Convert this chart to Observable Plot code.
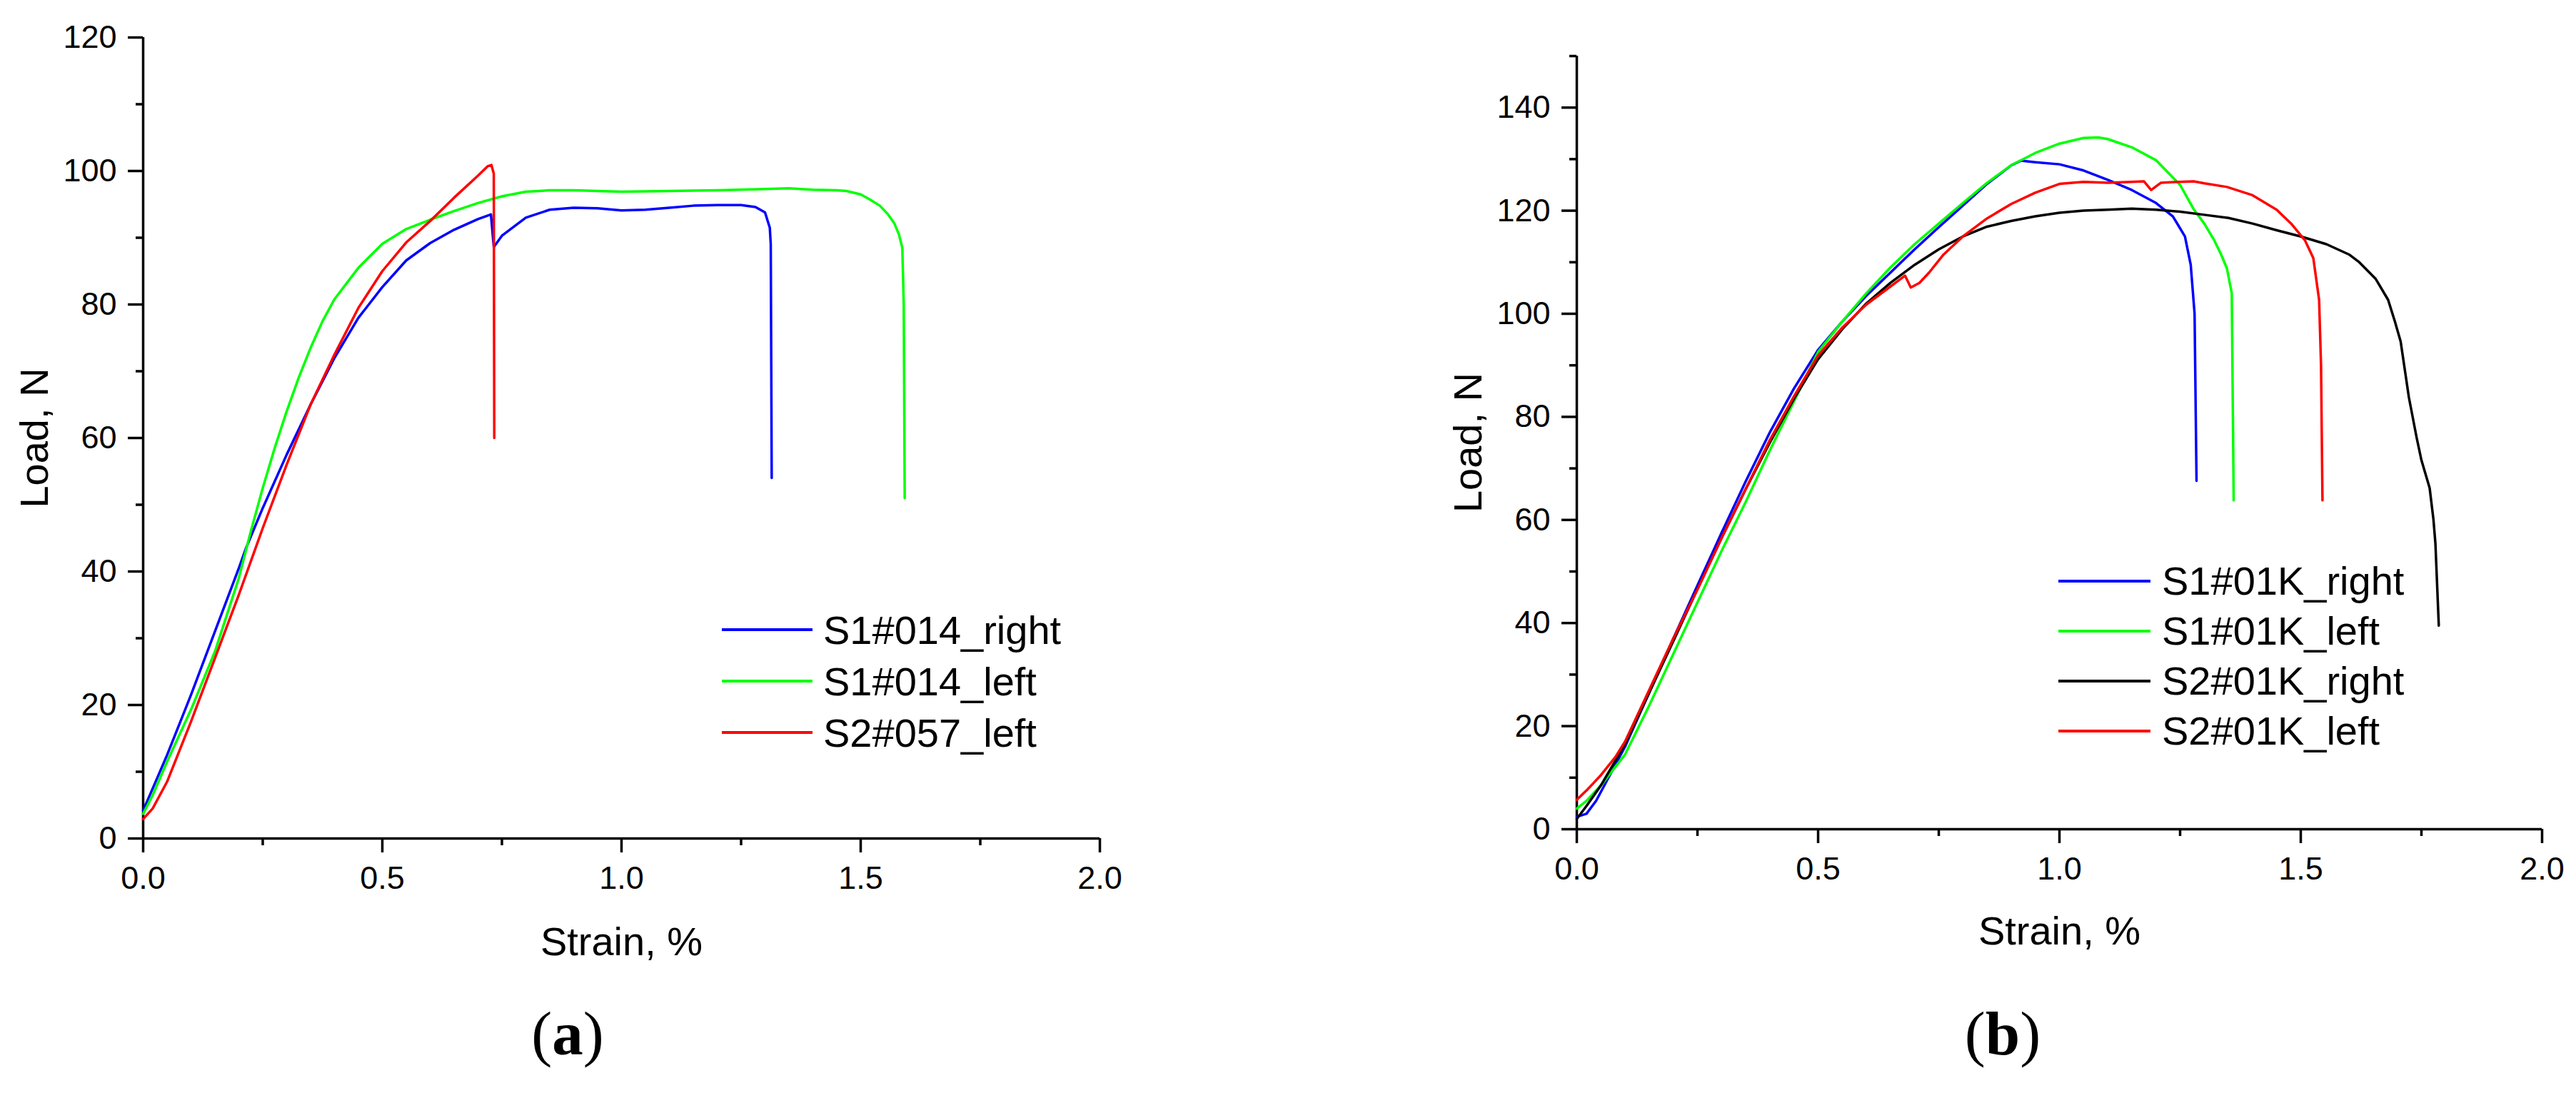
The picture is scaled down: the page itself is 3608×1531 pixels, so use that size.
<!DOCTYPE html>
<html>
<head>
<meta charset="utf-8">
<script src="https://cdn.jsdelivr.net/npm/d3@7"></script>
<script src="https://cdn.jsdelivr.net/npm/@observablehq/plot@0.6"></script>
<style>
html, body { margin: 0; padding: 0; background: #fff; }
#page { position: relative; width: 3608px; height: 1531px; overflow: hidden; background: #fff; font-family: "Liberation Sans", Arial, sans-serif; color: #000; }
.panel { position: absolute; top: 0; width: 1804px; height: 1531px; }
.leg-line { position: absolute; height: 3.5px; }
.leg-text { position: absolute; font-size: 56px; line-height: 56px; white-space: nowrap; color: #000; }
.cap { position: absolute; font-family: "Liberation Serif", "Times New Roman", serif; font-size: 87px; line-height: 87px; white-space: nowrap; transform: translateX(-50%); color: #000; }
.cap b { font-weight: bold; }
</style>
</head>
<body>
<div id="page"></div>
<script>
// ---------- tick values ----------
const xTicksMajor = [0, 0.5, 1.0, 1.5, 2.0];
const xTicksMinor = [0.25, 0.75, 1.25, 1.75];
const yTicksMajorA = [0, 20, 40, 60, 80, 100, 120];
const yTicksMinorA = [10, 30, 50, 70, 90, 110];
const yTicksMajorB = [0, 20, 40, 60, 80, 100, 120, 140];
const yTicksMinorB = [10, 30, 50, 70, 90, 110, 130, 150];

// ---------- panel (a) ----------
const seriesA = ["S1#014_right", "S1#014_left", "S2#057_left"];

const strainA_S1_014_right = [0, 0.02, 0.05, 0.1, 0.15, 0.2, 0.215, 0.25, 0.3, 0.35, 0.4, 0.45, 0.5, 0.55, 0.6, 0.65, 0.7, 0.727, 0.733, 0.75, 0.8, 0.85, 0.9, 0.95, 1.0, 1.05, 1.1, 1.15, 1.2, 1.25, 1.28, 1.3, 1.31, 1.312, 1.314];
const loadA_S1_014_right   = [4.2, 7.5, 12.5, 21.5, 31, 40.5, 43.5, 49.5, 57.5, 65, 72, 78, 82.6, 86.6, 89.2, 91.2, 92.8, 93.5, 88.6, 90.3, 93, 94.2, 94.5, 94.4, 94.1, 94.2, 94.5, 94.8, 94.9, 94.9, 94.6, 93.8, 91.5, 89, 54];

const strainA_S1_014_left = [0, 0.02, 0.05, 0.1, 0.15, 0.2, 0.225, 0.25, 0.275, 0.3, 0.325, 0.35, 0.375, 0.4, 0.45, 0.5, 0.55, 0.6, 0.65, 0.7, 0.75, 0.8, 0.85, 0.9, 1.0, 1.1, 1.2, 1.3, 1.35, 1.4, 1.45, 1.47, 1.5, 1.52, 1.54, 1.556, 1.57, 1.58, 1.587, 1.59, 1.592];
const loadA_S1_014_left   = [3.7, 6.5, 11.5, 19.3, 28, 39, 46, 52.5, 58.5, 64, 69, 73.5, 77.5, 80.8, 85.5, 89.1, 91.3, 92.7, 94, 95.2, 96.2, 96.9, 97.1, 97.1, 96.9, 97, 97.1, 97.3, 97.4, 97.2, 97.1, 97, 96.5, 95.7, 94.8, 93.6, 92.2, 90.5, 88.5, 80, 51];

const strainA_S2_057_left = [0, 0.02, 0.05, 0.1, 0.15, 0.2, 0.25, 0.3, 0.35, 0.4, 0.45, 0.5, 0.55, 0.6, 0.65, 0.7, 0.72, 0.728, 0.733, 0.734];
const loadA_S2_057_left   = [2.9, 4.5, 8.5, 17.5, 27, 36.5, 46.5, 56, 65, 72.5, 79.5, 85, 89.3, 92.5, 96, 99.3, 100.7, 100.9, 99.6, 60];

// ---------- panel (b) ----------
const seriesB = ["S1#01K_right", "S1#01K_left", "S2#01K_right", "S2#01K_left"];

const strainB_S1_01K_right = [0, 0.02, 0.04, 0.06, 0.08, 0.1, 0.15, 0.2, 0.25, 0.3, 0.35, 0.4, 0.45, 0.5, 0.55, 0.6, 0.65, 0.7, 0.75, 0.8, 0.85, 0.9, 0.92, 0.95, 1.0, 1.05, 1.1, 1.15, 1.2, 1.235, 1.26, 1.272, 1.28, 1.284];
const loadB_S1_01K_right   = [2.4, 3, 5.5, 9, 12.5, 16, 26.5, 37, 47.3, 57.5, 67.5, 77, 85.5, 93, 98.5, 103.5, 108, 112.5, 116.8, 121, 125.2, 128.8, 129.7, 129.4, 129, 127.8, 126, 124, 121.5, 118.9, 115, 109.5, 100, 67.6];

const strainB_S1_01K_left = [0, 0.02, 0.05, 0.1, 0.15, 0.2, 0.25, 0.3, 0.35, 0.4, 0.45, 0.5, 0.55, 0.6, 0.65, 0.7, 0.75, 0.8, 0.85, 0.9, 0.95, 1.0, 1.05, 1.08, 1.1, 1.15, 1.2, 1.25, 1.278, 1.3, 1.321, 1.335, 1.347, 1.357, 1.361];
const loadB_S1_01K_left   = [4, 5.5, 8.5, 14.5, 24, 34, 44, 54, 63.5, 73.5, 83, 92.6, 98.5, 104, 109, 113.5, 117.5, 121.5, 125.4, 128.8, 131.2, 133, 134.1, 134.2, 133.9, 132.3, 129.8, 125, 120.3, 117.5, 114.2, 111.5, 108.8, 104, 63.8];

const strainB_S2_01K_right = [0, 0.02, 0.05, 0.1, 0.15, 0.2, 0.25, 0.3, 0.35, 0.4, 0.45, 0.5, 0.55, 0.6, 0.65, 0.7, 0.75, 0.8, 0.85, 0.9, 0.95, 1.0, 1.05, 1.1, 1.15, 1.2, 1.25, 1.3, 1.35, 1.4, 1.45, 1.5, 1.553, 1.6, 1.62, 1.655, 1.681, 1.695, 1.707, 1.724, 1.74, 1.75, 1.767, 1.775, 1.779, 1.786];
const loadB_S2_01K_right   = [2, 4.5, 8.5, 16.5, 26.5, 36.5, 46.6, 56.5, 66, 75, 83.5, 91.2, 97, 102, 106, 109.5, 112.5, 115, 116.9, 118, 118.9, 119.6, 120, 120.2, 120.4, 120.2, 119.8, 119.2, 118.6, 117.5, 116.2, 115, 113.5, 111.5, 110.1, 106.8, 102.7, 98.5, 94.6, 83.8, 76, 71.6, 66.2, 60, 55.4, 39.5];

const strainB_S2_01K_left = [0, 0.02, 0.05, 0.08, 0.1, 0.15, 0.2, 0.25, 0.3, 0.35, 0.4, 0.45, 0.5, 0.55, 0.6, 0.65, 0.68, 0.692, 0.71, 0.73, 0.76, 0.8, 0.85, 0.9, 0.95, 1.0, 1.05, 1.1, 1.15, 1.175, 1.19, 1.21, 1.25, 1.278, 1.3, 1.347, 1.4, 1.45, 1.48, 1.509, 1.526, 1.538, 1.542, 1.545];
const loadB_S2_01K_left   = [5.7, 7.5, 10.5, 14, 17, 27, 37, 46.5, 56.5, 66, 75.5, 84, 91.9, 97.3, 101.8, 105.3, 107.4, 105.1, 106, 108, 111.5, 115, 118.5, 121.3, 123.5, 125.2, 125.6, 125.4, 125.6, 125.7, 124, 125.4, 125.6, 125.7, 125.3, 124.6, 123, 120.2, 117.5, 114.2, 110.8, 102.7, 90, 63.8];

// ---------- styles ----------
const colorsA = ["#0000ff", "#00ff00", "#ff0000"];
const colorsB = ["#0000ff", "#00ff00", "#000000", "#ff0000"];
const FONT = "'Liberation Sans', Arial, sans-serif";

function buildPanel(cfg) {
  const marks = [
    Plot.ruleY([0], {strokeWidth: 3.5}),
    Plot.ruleX([0], {strokeWidth: 3.5}),
    Plot.axisX({ticks: xTicksMajor, tickSize: 20, tickPadding: 19, tickFormat: d => d.toFixed(1), fontSize: 45, strokeWidth: 3.5, label: null}),
    Plot.axisX({ticks: xTicksMinor, tickSize: 10, tickFormat: () => "", strokeWidth: 3.5, label: null}),
    Plot.axisY({ticks: cfg.yMajor, tickSize: 21, tickPadding: 16, tickFormat: d => String(d), fontSize: 45, strokeWidth: 3.5, label: null}),
    Plot.axisY({ticks: cfg.yMinor, tickSize: 10, tickFormat: () => "", strokeWidth: 3.5, label: null})
  ];
  cfg.series.forEach((name, i) => {
    const rows = cfg.strains[i].map((s, j) => ({strain: s, load: cfg.loads[i][j], series: name}));
    marks.push(Plot.line(rows, {x: "strain", y: "load", stroke: cfg.colors[i], strokeWidth: 3.5}));
  });
  marks.push(Plot.text(["Strain, %"], {frameAnchor: "bottom", dy: cfg.xTitleDy, lineAnchor: "bottom", textAnchor: "middle", fontSize: 56}));
  marks.push(Plot.text(["Load, N"], {frameAnchor: "left", dx: -134, rotate: -90, lineAnchor: "bottom", textAnchor: "middle", fontSize: 56}));
  return Plot.plot({
    width: 1804,
    height: 1531,
    marginLeft: cfg.mL, marginRight: cfg.mR, marginTop: cfg.mT, marginBottom: cfg.mB,
    x: {domain: [0, 2], label: null},
    y: {domain: [0, cfg.yMax], label: null},
    style: {fontFamily: FONT, fontSize: "45px", background: "white", color: "black", overflow: "visible"},
    marks
  });
}

const page = document.getElementById("page");

function addPanel(left, svg) {
  const d = document.createElement("div");
  d.className = "panel";
  d.style.left = left + "px";
  d.appendChild(svg);
  page.appendChild(d);
}

addPanel(0, buildPanel({
  series: seriesA, colors: colorsA,
  strains: [strainA_S1_014_right, strainA_S1_014_left, strainA_S2_057_left],
  loads: [loadA_S1_014_right, loadA_S1_014_left, loadA_S2_057_left],
  yMax: 120, yMajor: yTicksMajorA, yMinor: yTicksMinorA,
  mL: 200, mR: 264, mT: 52, mB: 357, xTitleDy: 163
}));

addPanel(1804, buildPanel({
  series: seriesB, colors: colorsB,
  strains: [strainB_S1_01K_right, strainB_S1_01K_left, strainB_S2_01K_right, strainB_S2_01K_left],
  loads: [loadB_S1_01K_right, loadB_S1_01K_left, loadB_S2_01K_right, loadB_S2_01K_left],
  yMax: 150, yMajor: yTicksMajorB, yMinor: yTicksMinorB,
  mL: 404, mR: 48, mT: 78, mB: 370, xTitleDy: 161
}));

// ---------- legends (HTML) ----------
function addLegend(names, colors, layout) {
  names.forEach((name, i) => {
    const row = layout.rows[i];
    const ln = document.createElement("div");
    ln.className = "leg-line";
    ln.style.left = layout.lineX + "px";
    ln.style.width = layout.lineW + "px";
    ln.style.top = (row - 1.75) + "px";
    ln.style.background = colors[i];
    page.appendChild(ln);
    const tx = document.createElement("div");
    tx.className = "leg-text";
    tx.style.left = layout.textX + "px";
    tx.style.top = (row + layout.baseOff - 47.4) + "px";
    tx.textContent = name;
    page.appendChild(tx);
  });
}
addLegend(seriesA, colorsA, {rows: [882, 954, 1026], lineX: 1011, lineW: 127, textX: 1153, baseOff: 20});
addLegend(seriesB, colorsB, {rows: [814, 884, 954, 1024], lineX: 2883, lineW: 129, textX: 3028, baseOff: 19});

// ---------- panel captions ----------
function addCaption(letter, cx) {
  const c = document.createElement("div");
  c.className = "cap";
  c.style.left = cx + "px";
  c.style.top = (1477 - 72.9) + "px";
  c.innerHTML = "(<b>" + letter + "</b>)";
  page.appendChild(c);
}
addCaption("a", 795);
addCaption("b", 2805);
</script>
</body>
</html>
